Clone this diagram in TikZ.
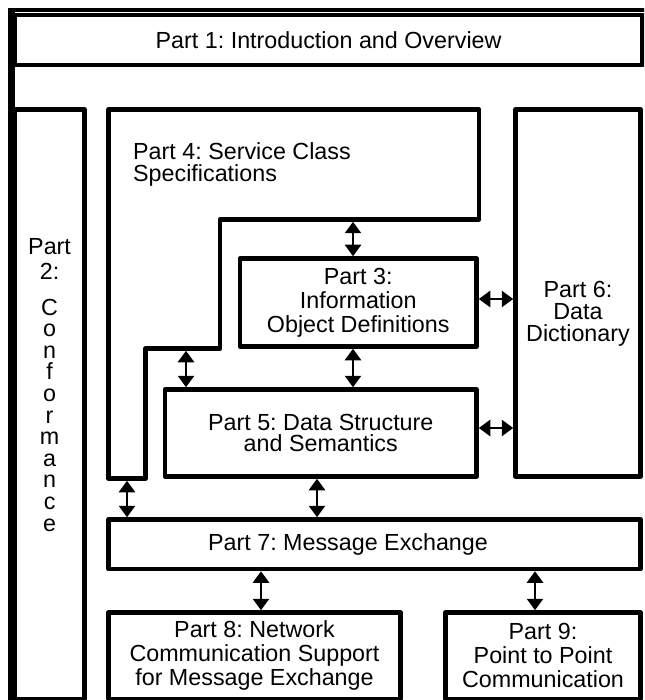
\documentclass[tikz,border=0pt]{standalone}
\usepackage{fontspec}
\setmainfont{Liberation Sans}
\usetikzlibrary{arrows.meta}
\frenchspacing
\begin{document}
\begin{tikzpicture}[x=1pt,y=-1pt,
  box/.style={draw, line width=4.5pt, line join=round, inner sep=0pt, align=center,
    font=\fontsize{23.3}{24}\selectfont},
  lbl/.style={inner sep=0pt, font=\fontsize{23.3}{24}\selectfont},
  link/.style={line width=2.6pt,
    {Triangle[length=11.5pt,width=16pt]}-{Triangle[length=11.5pt,width=16pt]}},
]
\useasboundingbox (0,0) rectangle (644,700);
\clip (0,0) rectangle (644,700);

% outer frame
\draw[line width=4pt] (8,10) -- (660,10);
\draw[line width=7pt] (11.5,8) -- (11.5,710);

% Part 1 and Part 2
\node[box, minimum width=627.75pt, minimum height=50pt] (p1) at (328.6,40) {Part 1: Introduction and Overview};
\node[box, minimum width=69.75pt, minimum height=589.5pt] (p2) at (49.6,404.25) {};
\node[lbl, anchor=north, align=center, font=\fontsize{23.3}{21.6}\selectfont] (t2) at (49.6,238.6)
  {Part\\[3pt]2:\\[14pt]C\\o\\n\\f\\o\\r\\m\\a\\n\\c\\e};

% Part 4: stepped outline
\draw[line width=4.5pt, line join=round]
  (108.5,109.5) -- (479,109.5) -- (479,219.5) -- (220,219.5) -- (220,348.5)
  -- (145.5,348.5) -- (145.5,478.5) -- (108.5,478.5) -- cycle;
\node[lbl, anchor=north west, align=left, font=\fontsize{23.3}{21.7}\selectfont] (t4) at (133,142.3)
  {Part 4: Service Class\\Specifications};
\coordinate (p4e1) at (353,221.75);
\coordinate (p4e2) at (186,350.75);
\coordinate (p4e3) at (127,480.75);

% Parts 3, 5, 6
\node[box, minimum width=236.5pt, minimum height=88pt] (p3) at (358.25,302.5)
  {Part 3:\\Information\\Object Definitions};
\node[box, minimum width=311.5pt, minimum height=87pt, font=\fontsize{23.3}{21.7}\selectfont] (p5) at (320.75,433)
  {Part 5: Data Structure\\and Semantics};
\node[box, minimum width=125pt, minimum height=367pt] (p6) at (578,293) {};
\node[lbl, align=center, font=\fontsize{23.3}{22}\selectfont] (t6) at (578,314) {Part 6:\\Data\\Dictionary};

% Parts 7, 8, 9
\node[box, minimum width=532pt, minimum height=49.5pt] (p7) at (374.5,544.25) {};
\node[lbl, anchor=base] (t7) at (348,550) {Part 7: Message Exchange};
\node[box, minimum width=292pt, minimum height=86.5pt] (p8) at (254.5,655.75)
  {Part 8: Network\\Communication Support\\for Message Exchange};
\node[box, minimum width=195pt, minimum height=86.5pt] (p9) at (543,655.75)
  {Part 9:\\Point to Point\\Communication};

% connector positions
\coordinate (c317) at (317,0);
\coordinate (c261) at (261,0);
\coordinate (c535) at (535,0);
\coordinate (r299) at (0,299);
\coordinate (r428) at (0,428);

% connectors
\draw[link] (p4e1) -- (p3.north -| p4e1);
\draw[link] (p3.south -| p4e1) -- (p5.north -| p4e1);
\draw[link] (p4e2) -- (p5.north -| p4e2);
\draw[link] (p3.east |- r299) -- (p6.west |- r299);
\draw[link] (p5.east |- r428) -- (p6.west |- r428);
\draw[link] (p4e3) -- (p7.north -| p4e3);
\draw[link] (p5.south -| c317) -- (p7.north -| c317);
\draw[link] (p7.south -| c261) -- (p8.north -| c261);
\draw[link] (p7.south -| c535) -- (p9.north -| c535);
\end{tikzpicture}
\end{document}
